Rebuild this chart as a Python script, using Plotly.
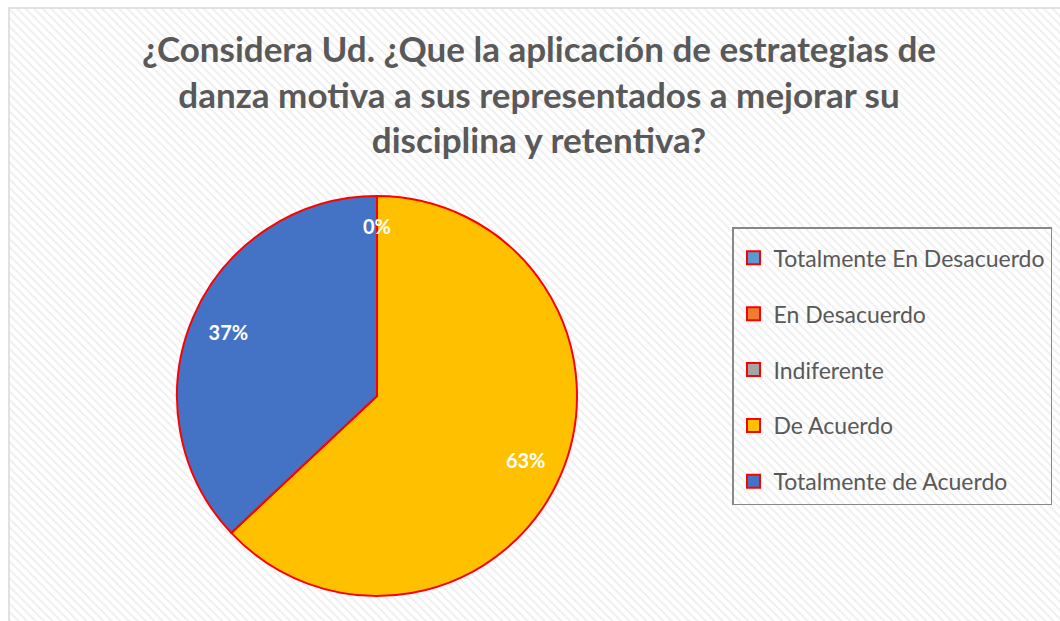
import plotly.graph_objects as go

labels = ["Totalmente En Desacuerdo", "En Desacuerdo", "Indiferente", "De Acuerdo", "Totalmente de Acuerdo"]
values = [0, 0, 0, 63, 37]
colors = ["#5B9BD5", "#ED7D31", "#A5A5A5", "#FFC000", "#4472C4"]
title_lines = ["¿Considera Ud. ¿Que la aplicación de estrategias de",
               "danza motiva a sus representados a mejorar su",
               "disciplina y retentiva?"]

W, H = 1060, 621
FONT = "Lato, 'Open Sans', sans-serif"
GRAY = "#595959"

cx, cy, r = 377, 396, 200
dom = dict(x=[(cx - r) / W, (cx + r) / W], y=[(H - cy - r) / H, (H - cy + r) / H])

fig = go.Figure()

# hatched chart-area background
bx0, by1 = 9 / W, (H - 8) / H
fig.add_trace(go.Scatter(
    x=[bx0, 1.01, 1.01, bx0, bx0], y=[-0.01, -0.01, by1, by1, -0.01],
    mode="lines", fill="toself", line=dict(width=0),
    fillcolor="white",
    fillpattern=dict(shape="\\", fgcolor="#dcdcdc", bgcolor="white", size=6, solidity=0.3),
    hoverinfo="skip", showlegend=False))

# pie slices
fig.add_trace(go.Pie(
    labels=labels, values=values, sort=False, direction="clockwise", rotation=0,
    marker=dict(colors=colors, line=dict(color="#FF0000", width=2)),
    textinfo="none", domain=dom, showlegend=False, hoverinfo="label+percent"))

# percentage labels (transparent ring so labels sit near the rim)
fig.add_trace(go.Pie(
    labels=labels, values=values, sort=False, direction="clockwise", rotation=0, hole=0.62,
    marker=dict(colors=["rgba(0,0,0,0)"] * len(values), line=dict(width=0)),
    texttemplate="<b>%{percent:.0%}</b>", textposition="inside",
    insidetextorientation="horizontal",
    textfont=dict(family=FONT, size=20, color="white"),
    domain=dom, showlegend=False, hoverinfo="skip"))

# label for zero-valued slices at the start angle
total = sum(values)
zero_pct = [round(100 * v / total) for v in values if v == 0]
if zero_pct:
    fig.add_annotation(xref="paper", yref="paper", x=cx / W, y=(H - cy + 0.85 * r) / H,
                       text=f"<b>{zero_pct[0]}%</b>", showarrow=False,
                       font=dict(family=FONT, size=20, color="white"))

# legend entries
for i, (lab, col) in enumerate(zip(labels, colors)):
    fig.add_trace(go.Scatter(
        x=[None], y=[None], mode="markers", name=lab, legendgroup=f"g{i}",
        marker=dict(symbol="square", size=13, color=col, line=dict(color="#FF0000", width=2))))

# soft shadow around pie
for k in range(27, 0, -3):
    fig.add_shape(type="circle", xref="paper", yref="paper", layer="below",
                  x0=(cx - r - k) / W, x1=(cx + r + k) / W,
                  y0=(H - (cy + r + k)) / H, y1=(H - (cy - r - k)) / H,
                  fillcolor="rgba(0,0,0,0.018)", line=dict(width=0))

fig.add_shape(type="rect", xref="paper", yref="paper", x0=bx0, x1=1.01, y0=-0.01, y1=by1,
              line=dict(color="#d9d9d9", width=1.5), layer="above")

fig.update_layout(
    width=W, height=H, margin=dict(l=0, r=0, t=0, b=0),
    paper_bgcolor="white", plot_bgcolor="rgba(0,0,0,0)",
    xaxis=dict(visible=False, range=[0, 1], domain=[0, 1], fixedrange=True),
    yaxis=dict(visible=False, range=[0, 1], domain=[0, 1], fixedrange=True),
    title=dict(text="<b>" + "<br>".join(title_lines) + "</b>", x=539 / W, xanchor="center",
               y=1 - 62 / H, yanchor="top",
               font=dict(family=FONT, size=35, color=GRAY)),
    legend=dict(x=732 / W, y=(H - 227) / H, xanchor="left", yanchor="top",
                bordercolor="#888888", borderwidth=1.5, bgcolor="rgba(0,0,0,0)",
                font=dict(family=FONT, size=23, color=GRAY),
                title=dict(text=" ", font=dict(size=6)),
                tracegroupgap=23, itemclick=False, itemdoubleclick=False),
    showlegend=True,
)

fig.write_html("out.html", config={"displayModeBar": False},
               post_script="document.body.style.margin='0';document.body.style.overflow='hidden';")
